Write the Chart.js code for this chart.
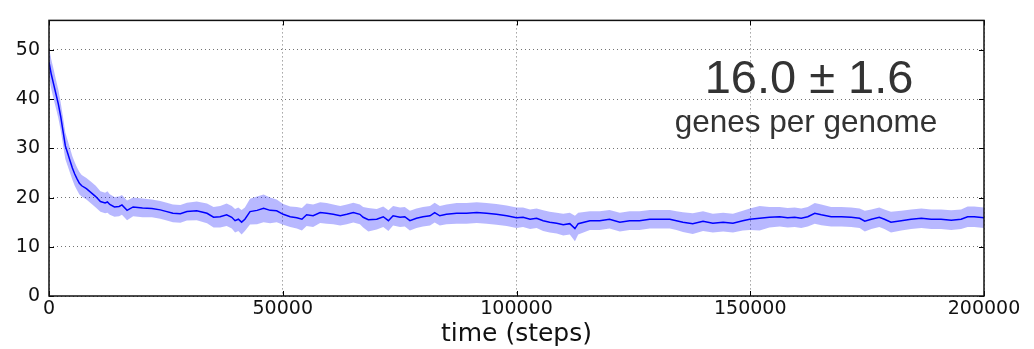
<!DOCTYPE html>
<html>
<head>
<meta charset="utf-8">
<script src="https://cdn.jsdelivr.net/npm/chart.js@4.4.1/dist/chart.umd.min.js"></script>
<style>
  html, body { margin: 0; padding: 0; background: #fff; }
  #genomeChart { display: block; }
</style>
</head>
<body>
<canvas id="genomeChart" width="1034" height="349"></canvas>
<script>
// simulation time (steps) of each sample
const steps = [
    0, 500, 1000, 1500, 2000, 2500, 3000, 3500, 4000, 4500,
    5000, 5500, 6000, 6500, 7000, 8000, 9000, 10000, 11000, 12000,
    12500, 13000, 14000, 15000, 15600, 16700, 18000, 20000, 22000, 23800,
    25000, 26500, 28100, 29500, 31600, 33800, 35200, 36600, 38000, 39100,
    39800, 40500, 41200, 41900, 43000, 44500, 45900, 47300, 48700, 50100,
    51600, 53000, 54100, 55100, 56500, 58000, 59400, 60800, 62300, 63700,
    65100, 66500, 67200, 68300, 70100, 71500, 72600, 73600, 75100, 76100,
    77200, 78600, 80000, 81500, 82500, 83600, 85000, 87200, 89300, 91500,
    93600, 95700, 97900, 100000, 101400, 102900, 104300, 105700, 107100, 108600,
    110000, 111400, 112500, 113200, 115700, 117800, 119900, 122100, 124200, 126300,
    128500, 130600, 132800, 134200, 135600, 137700, 139900, 142000, 144200, 146300,
    148400, 149900, 152000, 154100, 156300, 158000, 159500, 160900, 162300, 163800,
    165200, 167300, 169500, 171600, 173400, 174500, 175900, 177600, 178700, 180100,
    182300, 184400, 186600, 188700, 190800, 193000, 195100, 196500, 197900, 200000
];

// mean number of genes per genome
const meanGenes = [
    47.5, 45.0, 43.0, 41.0, 39.0, 36.5, 33.5, 30.5, 29.0, 27.5,
    26.0, 24.8, 23.8, 22.9, 22.4, 21.8, 21.0, 20.2, 19.2, 18.9,
    19.1, 18.6, 18.1, 18.2, 18.5, 17.4, 18.1, 17.9, 17.8, 17.5,
    17.2, 16.8, 16.7, 17.15, 17.3, 16.8, 16.0, 16.1, 16.5, 16.0,
    15.3, 15.6, 15.0, 15.6, 17.15, 17.4, 17.8, 17.4, 17.3, 16.6,
    16.1, 15.9, 15.6, 16.5, 16.3, 16.95, 16.8, 16.6, 16.3, 16.6,
    16.95, 16.6, 16.0, 15.5, 15.6, 16.1, 15.3, 16.3, 16.0, 16.1,
    15.3, 15.8, 16.1, 16.3, 16.95, 16.3, 16.6, 16.8, 16.8, 16.95,
    16.8, 16.6, 16.3, 15.9, 16.0, 15.6, 15.8, 15.3, 15.0, 14.8,
    14.5, 14.7, 13.7, 14.7, 15.3, 15.3, 15.6, 15.0, 15.3, 15.3,
    15.6, 15.6, 15.6, 15.3, 15.0, 14.7, 15.2, 14.8, 15.0, 14.8,
    15.3, 15.6, 15.8, 16.0, 16.1, 15.9, 16.0, 15.8, 16.1, 16.8,
    16.5, 16.1, 16.1, 16.0, 15.8, 15.2, 15.6, 16.0, 15.6, 15.0,
    15.3, 15.6, 15.8, 15.6, 15.6, 15.4, 15.6, 16.1, 16.1, 15.9
];

// spread around the mean (shaded band)
const stdGenes = [
    3.0, 3.0, 3.0, 2.9, 2.9, 2.8, 2.8, 2.7, 2.6, 2.5,
    2.4, 2.4, 2.3, 2.3, 2.2, 2.2, 2.2, 2.2, 2.1, 2.1,
    2.2, 2.1, 2.0, 2.0, 2.0, 2.0, 1.9, 1.9, 1.8, 1.8,
    1.8, 1.8, 1.8, 1.8, 1.9, 2.0, 2.1, 2.2, 2.3, 2.3,
    2.4, 2.4, 2.5, 2.4, 2.6, 2.8, 2.8, 2.6, 2.3, 2.1,
    2.1, 2.2, 2.3, 2.3, 2.3, 2.1, 2.1, 2.0, 2.0, 2.0,
    2.0, 2.0, 2.1, 2.4, 2.1, 2.1, 2.1, 2.0, 2.0, 2.0,
    2.0, 2.0, 2.0, 2.0, 2.0, 2.0, 2.0, 2.1, 2.1, 2.1,
    2.1, 2.1, 2.1, 2.1, 2.0, 2.0, 2.0, 2.1, 2.1, 2.1,
    2.2, 2.2, 2.6, 2.2, 1.9, 1.9, 1.9, 1.9, 1.9, 1.9,
    1.9, 1.9, 1.9, 1.9, 2.0, 2.1, 2.0, 1.9, 1.9, 1.9,
    2.0, 2.2, 2.5, 2.1, 2.0, 2.0, 2.0, 2.0, 2.0, 2.1,
    2.1, 2.0, 2.0, 2.0, 2.0, 2.1, 2.0, 2.0, 2.0, 2.1,
    2.0, 2.0, 2.0, 2.0, 2.0, 2.0, 2.0, 2.1, 2.1, 2.1
];

const xTicks = [0, 50000, 100000, 150000, 200000];
const yTicks = [0, 10, 20, 30, 40, 50];
const summaryValue = '16.0 \u00b1 1.6';
const summaryLabel = 'genes per genome';

const lowerBand = steps.map((s, i) => ({ x: s, y: meanGenes[i] - stdGenes[i] }));
const upperBand = steps.map((s, i) => ({ x: s, y: meanGenes[i] + stdGenes[i] }));
const meanLine = steps.map((s, i) => ({ x: s, y: meanGenes[i] }));

const tickFont = { family: "'DejaVu Sans', sans-serif", size: 19 };

// frame, inward tick marks and the summary text
const framePlugin = {
    id: 'frame',
    afterDatasetsDraw(chart) {
        const { ctx, chartArea: a, scales } = chart;
        ctx.save();
        ctx.strokeStyle = '#000';
        ctx.lineWidth = 1;
        xTicks.forEach(v => {
            const px = Math.round(scales.x.getPixelForValue(v)) + 0.5;
            ctx.beginPath();
            ctx.moveTo(px, a.bottom); ctx.lineTo(px, a.bottom - 5);
            ctx.moveTo(px, a.top); ctx.lineTo(px, a.top + 5);
            ctx.stroke();
        });
        yTicks.forEach(v => {
            const py = Math.round(scales.y.getPixelForValue(v)) + 0.5;
            ctx.beginPath();
            ctx.moveTo(a.left, py); ctx.lineTo(a.left + 5, py);
            ctx.moveTo(a.right, py); ctx.lineTo(a.right - 5, py);
            ctx.stroke();
        });
        ctx.lineWidth = 1.5;
        ctx.strokeStyle = '#111';
        ctx.strokeRect(a.left, a.top, a.right - a.left, a.bottom - a.top);

        ctx.fillStyle = '#333';
        ctx.textAlign = 'center';
        ctx.textBaseline = 'alphabetic';
        ctx.font = "47px 'Liberation Sans', Arial, sans-serif";
        ctx.fillText(summaryValue, 809, 93);
        ctx.font = "31.5px 'Liberation Sans', Arial, sans-serif";
        ctx.fillText(summaryLabel, 806, 132);
        ctx.restore();
    }
};

new Chart(document.getElementById('genomeChart').getContext('2d'), {
    type: 'line',
    plugins: [framePlugin],
    data: {
        datasets: [
            {
                data: lowerBand,
                borderColor: 'transparent',
                pointRadius: 0,
                fill: false
            },
            {
                data: upperBand,
                borderColor: 'transparent',
                backgroundColor: 'rgba(0, 0, 255, 0.28)',
                pointRadius: 0,
                fill: '-1'
            },
            {
                data: meanLine,
                borderColor: '#0000ff',
                borderWidth: 1.5,
                pointRadius: 0,
                fill: false
            }
        ]
    },
    options: {
        responsive: false,
        animation: false,
        devicePixelRatio: 1,
        layout: { padding: { top: 12, right: 50, left: 0, bottom: 0 } },
        plugins: {
            legend: { display: false },
            tooltip: { enabled: false }
        },
        scales: {
            x: {
                type: 'linear',
                min: 0,
                max: 200000,
                afterBuildTicks: s => { s.ticks = xTicks.map(v => ({ value: v })); },
                afterFit: s => { s.height = 53; },
                ticks: {
                    font: tickFont,
                    color: '#111',
                    padding: 2,
                    maxRotation: 0,
                    autoSkip: false,
                    callback: v => String(v)
                },
                grid: { color: 'rgba(0, 0, 0, 0.55)', lineWidth: 1, drawTicks: false },
                border: { display: false, dash: [1, 3] },
                title: {
                    display: true,
                    text: 'time (steps)',
                    font: { family: "'DejaVu Sans', sans-serif", size: 25 },
                    color: '#111',
                    padding: { top: 0, bottom: 0 }
                }
            },
            y: {
                min: 0,
                max: 56,
                afterBuildTicks: s => { s.ticks = yTicks.map(v => ({ value: v })); },
                afterFit: s => { s.width = 49; },
                ticks: {
                    font: tickFont,
                    color: '#111',
                    padding: 9
                },
                grid: { color: 'rgba(0, 0, 0, 0.55)', lineWidth: 1, drawTicks: false },
                border: { display: false, dash: [1, 3] }
            }
        }
    }
});
</script>
</body>
</html>
